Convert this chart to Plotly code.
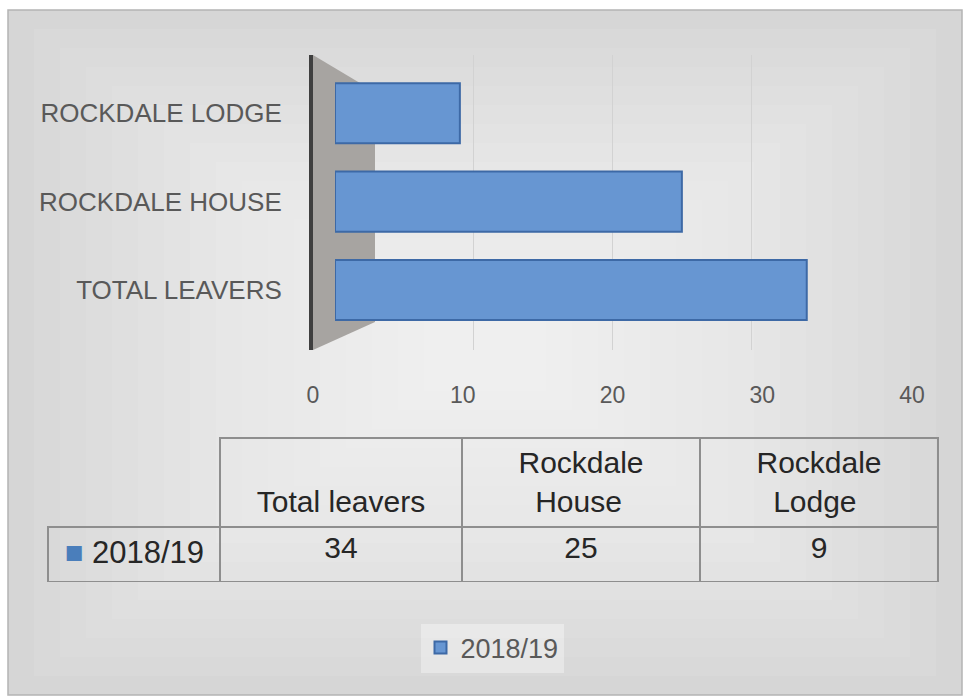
import plotly.graph_objects as go

# ---------------- data ----------------
categories = ["TOTAL LEAVERS", "ROCKDALE HOUSE", "ROCKDALE LODGE"]
values = [34, 25, 9]
series_name = "2018/19"
table_headers = ["Total leavers", "Rockdale<br>House", "Rockdale<br>Lodge"]
x_tick_values = [0, 10, 20, 30, 40]
grid_values = [10, 20, 30]

# ---------------- layout helpers ----------------
W, H = 966, 698
def px(x):
    return x / W
def py(y):
    return 1 - y / H

FONT = "Liberation Sans, Arial, sans-serif"
BAR_FILL = "#6796d2"
BAR_LINE = "#3d69a6"
GRID_LINE = "#8e8e8e"
NBSP = "\u00a0"

def centre_lines(label):
    # pad shorter lines so each line sits centred in the table cell;
    # single-line labels get an invisible first line to sit lower in the cell
    parts = label.split("<br>")
    if len(parts) == 1:
        return NBSP + "<br>" + label
    longest = max(len(p) for p in parts)
    out = []
    for p in parts:
        pad = max(0, int(round((longest - len(p)) * 0.75)))
        out.append(NBSP * pad + p)
    return "<br>".join(out)

fig = go.Figure()

# bars drawn on the (perspective) bar axis
fig.add_trace(go.Bar(
    x=values, y=categories, orientation="h", name=series_name,
    width=0.68,
    marker=dict(color=BAR_FILL, line=dict(color=BAR_LINE, width=2)),
    xaxis="x", yaxis="y", showlegend=True, hoverinfo="x+y",
))
# front value axis carrying the tick labels
fig.add_trace(go.Scatter(
    x=x_tick_values, y=[categories[0]] * len(x_tick_values),
    xaxis="x2", yaxis="y", mode="markers", marker=dict(opacity=0),
    showlegend=False, hoverinfo="skip",
))

square = NBSP + '<span style="color:#4a7ebb">■</span>' + NBSP
fig.add_trace(go.Table(
    domain=dict(x=[px(48), px(938)], y=[py(582), py(438)]),
    columnwidth=[172, 242, 238, 238],
    header=dict(
        values=[""] + [centre_lines(h) for h in table_headers],
        height=89,
        align="center",
        fill=dict(color="rgba(0,0,0,0)"),
        line=dict(color=["rgba(0,0,0,0)", GRID_LINE, GRID_LINE, GRID_LINE], width=1.5),
        font=dict(family=FONT, size=30, color="#262626"),
    ),
    cells=dict(
        values=[[square + series_name + "<br>"]] + [[str(v)] for v in values],
        height=55,
        align=["left", "center", "center", "center"],
        fill=dict(color="rgba(0,0,0,0)"),
        line=dict(color=GRID_LINE, width=1.5),
        font=dict(family=FONT, size=[31, 30, 30, 30], color="#262626"),
    ),
))

# background: framed light-grey panel with a soft lighter centre
shapes = [
    dict(type="rect", xref="paper", yref="paper", layer="below",
         x0=px(8), x1=px(962), y0=py(695), y1=py(10),
         fillcolor="#d6d6d6", line=dict(color="#b4b4b4", width=1.5)),
]
steps = 16
for i in range(1, steps + 1):
    ix = 26 * i
    iy = 19 * i
    shapes.append(dict(type="rect", xref="paper", yref="paper", layer="below",
                       x0=px(8 + ix), x1=px(962 - ix), y0=py(695 - iy), y1=py(10 + iy),
                       fillcolor="rgba(255,255,255,0.075)", line=dict(width=0)))
# 3-D side wall
shapes.append(dict(type="path", xref="paper", yref="paper", layer="below",
                   path="M %f %f L %f %f L %f %f L %f %f Z" % (
                       px(313), py(55), px(375), py(92), px(375), py(322), px(313), py(350)),
                   fillcolor="#a7a4a1", line=dict(width=0)))

fig.update_layout(
    width=W, height=H,
    margin=dict(l=0, r=0, t=0, b=0),
    paper_bgcolor="white",
    plot_bgcolor="rgba(0,0,0,0)",
    font=dict(family=FONT, color="#595959"),
    shapes=shapes,
    showlegend=True,
    xaxis=dict(
        domain=[px(335), px(890)], range=[0, 40], anchor="y",
        tickvals=grid_values, showticklabels=False, ticks="",
        showgrid=True, gridcolor="#d2d2d2", gridwidth=1,
        zeroline=False, showline=False, automargin=False, fixedrange=True,
    ),
    xaxis2=dict(
        domain=[px(313), px(912)], range=[0, 40], anchor="y",
        tickvals=x_tick_values, ticks="outside", ticklen=24,
        tickcolor="rgba(0,0,0,0)", tickfont=dict(size=23, color="#595959"),
        showgrid=False, zeroline=False, showline=False,
        automargin=False, fixedrange=True,
    ),
    yaxis=dict(
        domain=[py(350), py(55)], range=[-0.68, 2.66], anchor="x2",
        type="category", ticks="outside", ticklen=22,
        tickcolor="rgba(0,0,0,0)", tickfont=dict(size=26, color="#595959"),
        showline=True, linecolor="#3f3f3f", linewidth=4,
        showgrid=False, zeroline=False, automargin=False, fixedrange=True,
    ),
    legend=dict(
        x=px(492), y=py(648), xanchor="center", yanchor="middle",
        orientation="h", bgcolor="rgba(255,255,255,0.35)",
        font=dict(size=27, color="#595959", family=FONT),
    ),
    bargap=0.32,
)

fig.write_html("out.html")
